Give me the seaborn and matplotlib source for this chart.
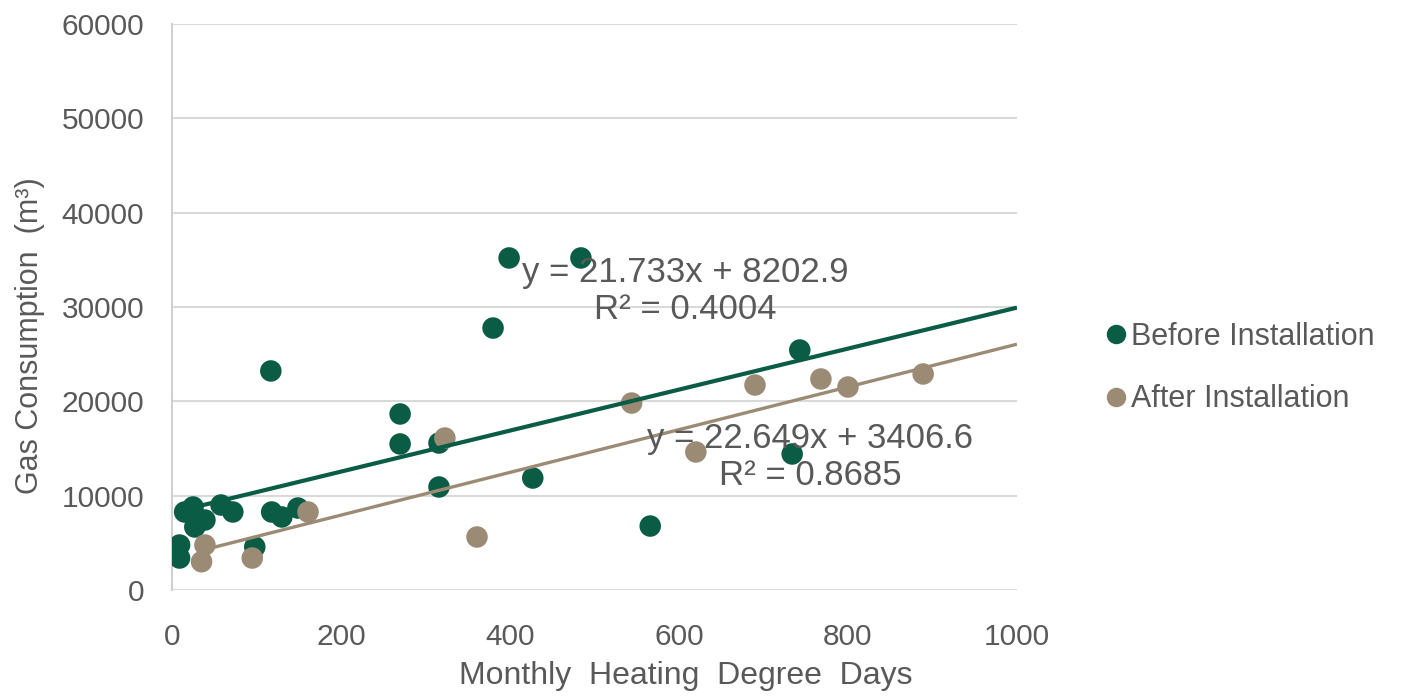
import numpy as np
import pandas as pd
import matplotlib
matplotlib.use("Agg")
import matplotlib.pyplot as plt
import seaborn as sns

# Monthly heating degree days and gas consumption, before the installation
before_hdd = [9, 9, 25, 15, 39, 27, 58, 72, 98, 118, 130, 149,
              117, 270, 270, 316, 316, 380, 399, 427, 484, 566, 734, 743]
before_gas = [4770, 3390, 8800, 8270, 7420, 6680, 9010, 8270, 4560, 8270, 7740, 8690,
              23220, 18660, 15480, 15580, 10920, 27770, 35200, 11870, 35200, 6780, 14420, 25440]

# ... and after the installation
after_hdd = [39, 35, 95, 161, 323, 361, 544, 620, 690, 768, 800, 889]
after_gas = [4770, 3000, 3390, 8270, 16110, 5620, 19820, 14630, 21730, 22370, 21520, 22900]

series_names = ["Before Installation", "After Installation"]
series_colors = ["#0a5c45", "#9c8b74"]

# Linear trendlines (slope, intercept, R²)
trend_slope = [21.733, 22.649]
trend_intercept = [8202.9, 3406.6]
trend_r2 = [0.4004, 0.8685]

x_ticks = [0, 200, 400, 600, 800, 1000]
y_ticks = [0, 10000, 20000, 30000, 40000, 50000, 60000]

df = pd.DataFrame({
    "HDD": before_hdd + after_hdd,
    "Gas": before_gas + after_gas,
    "Series": [series_names[0]] * len(before_hdd) + [series_names[1]] * len(after_hdd),
})

sns.set_theme(style="white")
plt.rcParams["font.family"] = ["Liberation Sans", "DejaVu Sans"]
text_gray = "#595959"

fig = plt.figure(figsize=(14.05, 6.96), dpi=100)
ax = fig.add_axes([0.1224, 0.1523, 0.6014, 0.8132])

sns.scatterplot(data=df, x="HDD", y="Gas", hue="Series", hue_order=series_names,
                palette=series_colors, s=240, edgecolor="none", linewidth=0,
                alpha=1.0, ax=ax, zorder=3, legend=False)

# Trendlines, forecast forward to 1000 degree days
for i, xs in enumerate([before_hdd, after_hdd]):
    x_line = np.array([min(xs), 1000])
    y_line = trend_slope[i] * x_line + trend_intercept[i]
    ax.plot(x_line, y_line, color=series_colors[i], lw=3.0 if i == 0 else 2.4,
            zorder=4, solid_capstyle="butt")

# Trendline equations
eq_pos = [(607, 31700), (755, 14100)]
for i, (ex, ey) in enumerate(eq_pos):
    ax.text(ex, ey, f"y = {trend_slope[i]}x + {trend_intercept[i]}\nR² = {trend_r2[i]}",
            ha="center", va="center", multialignment="center", fontsize=25,
            color=text_gray, linespacing=1.15, zorder=5)

ax.set_xlim(0, 1000)
ax.set_ylim(0, 60000)
ax.set_xticks(x_ticks)
ax.set_yticks(y_ticks)
ax.tick_params(axis="both", labelsize=21.5, colors=text_gray, length=0)
ax.tick_params(axis="x", pad=24)
ax.tick_params(axis="y", pad=20)
ax.yaxis.grid(True, color="#d9d9d9", lw=1.5)
ax.xaxis.grid(False)
ax.set_axisbelow(True)
for side in ["top", "right", "bottom"]:
    ax.spines[side].set_visible(False)
ax.spines["left"].set_color("#d0d0d0")
ax.spines["left"].set_linewidth(1.5)

ax.set_xlabel("Monthly  Heating  Degree  Days", fontsize=23, color=text_gray)
ax.xaxis.set_label_coords(0.608, -0.152)
ax.xaxis.label.set_va("center")
ax.set_ylabel("Gas Consumption  (m³)", fontsize=22, color=text_gray)
ax.yaxis.set_label_coords(-0.168, 0.45)
ax.yaxis.label.set_va("center")

handles = [plt.Line2D([], [], marker="o", ls="none", color=c, markersize=13) for c in series_colors]
fig.legend(handles, series_names, loc="center left", bbox_to_anchor=(0.764, 0.471),
           frameon=False, fontsize=22, labelcolor=text_gray, handletextpad=0.0,
           handlelength=1.0, labelspacing=1.05)

fig.savefig("out.png", dpi=100)
